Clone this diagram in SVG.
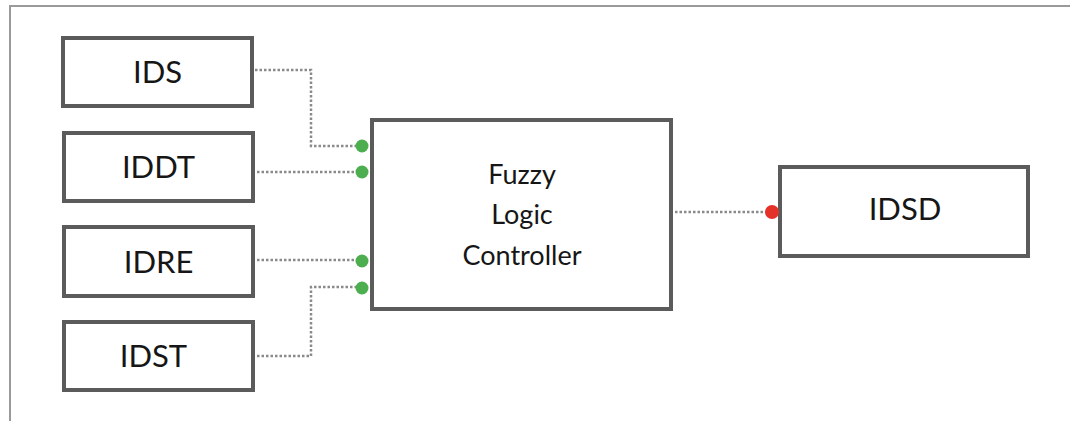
<svg xmlns="http://www.w3.org/2000/svg" width="1070" height="421" viewBox="0 0 1070 421">
  <style>
    .box { fill: #ffffff; stroke: #5b5b5b; stroke-width: 4; }
    .label { font-family: Lato, "Liberation Sans", sans-serif; font-weight: 400; fill: #161616; text-anchor: middle; }
    .big { font-size: 31px; }
    .mid { font-size: 27px; }
    .wire { fill: none; stroke: #8a8a8a; stroke-width: 2.5; stroke-dasharray: 2.5 2; }
    .in { fill: #4cae4f; }
    .out { fill: #e53228; }
  </style>
  <rect width="1070" height="421" fill="#ffffff"/>
  <!-- frame -->
  <path d="M1070 6 H10 V421" fill="none" stroke="#9a9a9a" stroke-width="2"/>

  <g id="connectors">
    <path class="wire" d="M255 70 H311 V146 H360"/>
    <path class="wire" d="M257 172 H360"/>
    <path class="wire" d="M257 260 H360"/>
    <path class="wire" d="M257 356 H311 V287 H360"/>
    <path class="wire" d="M675 212 H770"/>
  </g>

  <g id="ids">
    <rect class="box" x="63" y="38" width="189" height="68"/>
    <text class="label big" x="157.5" y="83">IDS</text>
  </g>
  <g id="iddt">
    <rect class="box" x="64" y="133" width="189" height="68"/>
    <text class="label big" x="158.5" y="178">IDDT</text>
  </g>
  <g id="idre">
    <rect class="box" x="64" y="227" width="189" height="69"/>
    <text class="label big" x="158.5" y="273">IDRE</text>
  </g>
  <g id="idst">
    <rect class="box" x="64" y="322" width="189" height="68"/>
    <text class="label big" x="153.5" y="367">IDST</text>
  </g>
  <g id="flc">
    <rect class="box" x="372" y="120" width="299" height="189"/>
    <text class="label mid" x="522" y="184">Fuzzy</text>
    <text class="label mid" x="522" y="224">Logic</text>
    <text class="label mid" x="522" y="265">Controller</text>
    <circle class="in" cx="362" cy="146" r="6.5"/>
    <circle class="in" cx="362" cy="172" r="6.5"/>
    <circle class="in" cx="362" cy="261" r="6.5"/>
    <circle class="in" cx="362" cy="288" r="6.5"/>
  </g>
  <g id="idsd">
    <rect class="box" x="780" y="167" width="248" height="89"/>
    <text class="label big" x="905" y="220">IDSD</text>
    <circle class="out" cx="772" cy="212" r="7"/>
  </g>
</svg>
